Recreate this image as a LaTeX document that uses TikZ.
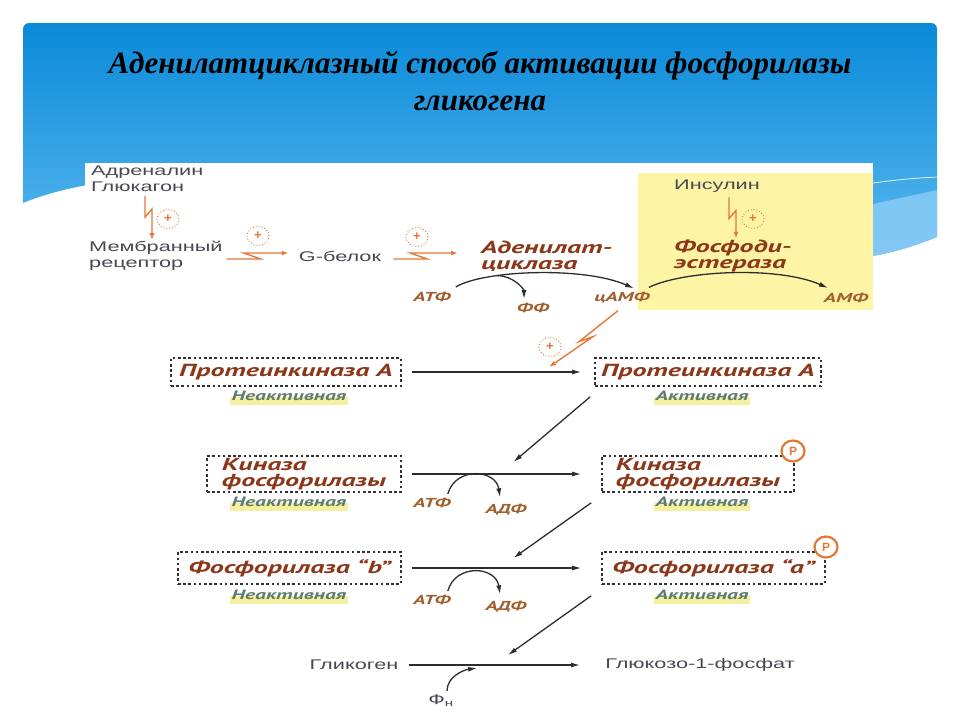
\documentclass[tikz,border=0pt]{standalone}
\usepackage{fontspec}
\setmainfont{Liberation Sans}
\newfontfamily\titlefont{Liberation Serif}
\newfontfamily\labfont[FakeStretch=1.55]{Liberation Sans}
\newfontfamily\enzfont[FakeStretch=1.6]{PT Sans}
\usetikzlibrary{arrows.meta,shapes.geometric,backgrounds,calc}
\definecolor{slidetop}{RGB}{10,138,217}
\definecolor{slidebot}{RGB}{90,184,239}
\definecolor{slidelight}{RGB}{140,205,246}
\definecolor{yellowbg}{RGB}{254,244,166}
\definecolor{hlyellow}{RGB}{244,240,160}
\definecolor{labgrey}{RGB}{72,72,82}
\definecolor{enzbrown}{RGB}{140,55,25}
\definecolor{metbrown}{RGB}{160,95,45}
\definecolor{actgreen}{RGB}{95,125,110}
\definecolor{zaporange}{RGB}{228,120,55}
\definecolor{arrgrey}{RGB}{45,45,45}
\definecolor{boxgrey}{RGB}{50,50,50}
\tikzset{
	lab/.style={font=\labfont\fontsize{14}{16}\selectfont, text=labgrey, inner sep=1pt, align=left},
	enz/.style={font=\enzfont\bfseries\itshape\fontsize{17.5}{16}\selectfont, text=enzbrown, inner sep=1pt, align=left},
	enzbox/.style={enz, draw=boxgrey, line width=1.6pt, dash pattern=on 2.6pt off 2.6pt},
	met/.style={font=\enzfont\bfseries\itshape\fontsize{13}{13}\selectfont, text=metbrown, inner sep=1pt},
	actlabel/.style={font=\enzfont\bfseries\itshape\fontsize{13.5}{13.5}\selectfont, text=actgreen, inner sep=1pt},
	plus/.style={ellipse, draw=zaporange, dotted, line width=0.9pt, minimum width=22pt, minimum height=19pt, inner sep=0pt, text=zaporange, font=\bfseries\fontsize{13}{13}\selectfont},
	phos/.style={ellipse, draw=zaporange, fill=white, line width=2.2pt, minimum width=23pt, minimum height=21pt, inner sep=0pt, text=zaporange, font=\bfseries\fontsize{12}{12}\selectfont},
	zap/.style={draw=zaporange, line width=1.4pt, -{Latex[length=7pt,width=5pt]}},
	conv/.style={draw=arrgrey, line width=1.3pt, -{Latex[length=9pt,width=5pt]}}
}

\begin{document}
\begin{tikzpicture}[x=1pt,y=-1pt]
			%%%%% START %%%%%
			\useasboundingbox (0,0) rectangle (960,720);
			
			\begin{scope}[on background layer]
				\fill[white] (0,0) rectangle (960,720);
				\shade[top color=slidetop, bottom color=slidebot] (23,203) [rounded corners=6pt] -- (23,23) -- (937,23) [sharp corners] -- (937,237) .. controls (915,246) and (895,252) .. (873,256) -- (500,240) -- (87,185) .. controls (60,190) and (40,196) .. (23,203) -- cycle;
				\fill[slidelight, opacity=0.8] (873,204) .. controls (895,199) and (915,195) .. (937,190) -- (937,237) .. controls (915,246) and (895,252) .. (873,256) -- cycle;
				\draw[white, line width=0.7pt] (873,183) .. controls (895,180) and (915,178) .. (937,177);
				\fill[white] (85,163) rectangle (873,716);
				\fill[yellowbg] (638,173) rectangle (873,310);
			\end{scope}
			
			\node[font=\titlefont\bfseries\itshape\fontsize{31}{37}\selectfont, align=center] (title) at (480,81) {Аденилатциклазный способ активации фосфорилазы\\гликогена};
			
			\node[lab, anchor=west] (horm) at (90,179) {Адреналин\\Глюкагон};
			\node[lab, anchor=west] (rec) at (88,256) {Мембранный\\рецептор};
			\node[lab] (gprot) at (340,256) {G-белок};
			\node[enz, anchor=west] (adc) at (480,256) {Аденилат-\\циклаза};
			\node[met] (atp1) at (432,297) {АТФ};
			\node[met] (pp) at (533,308) {ФФ};
			\node[met] (camp) at (622,298) {цАМФ};
			
			\node[lab] (ins) at (717,186) {Инсулин};
			\node[enz, anchor=west] (pde) at (673,256) {Фосфоди-\\эстераза};
			\node[met] (amp) at (846,298) {АМФ};
			
			\node[plus] (pl1) at (168,219) {+};
			\node[plus] (pl2) at (258,236) {+};
			\node[plus] (pl3) at (417,237) {+};
			\node[plus] (pl4) at (753,219) {+};
			\node[plus] (pl5) at (550,347) {+};
			
			\node[enzbox, minimum width=230pt, minimum height=28pt] (pka0) at (286,372) {Протеинкиназа А};
			\node[enzbox, minimum width=226pt, minimum height=28pt] (pka1) at (708,372) {Протеинкиназа А};
			\node[actlabel] (st1a) at (289,396) {Неактивная};
			\node[actlabel] (st1b) at (702,396) {Активная};
			
			\node[enzbox, minimum width=194pt, minimum height=36pt] (kin0) at (304,474) {Киназа\\фосфорилазы};
			\node[enzbox, minimum width=192pt, minimum height=36pt] (kin1) at (698,474) {Киназа\\фосфорилазы};
			\node[phos] (p1) at (793,451) {P};
			\node[actlabel] (st2a) at (289,502) {Неактивная};
			\node[actlabel] (st2b) at (702,502) {Активная};
			\node[met] (atp2) at (432,503) {АТФ};
			\node[met] (adp2) at (506,510) {АДФ};
			
			\node[enzbox, minimum width=223pt, minimum height=32pt] (ph0) at (289.5,568) {Фосфорилаза “b”};
			\node[enzbox, minimum width=223pt, minimum height=32pt] (ph1) at (713.5,568) {Фосфорилаза “a”};
			\node[phos] (p2) at (826,547) {P};
			\node[actlabel] (st3a) at (289,595) {Неактивная};
			\node[actlabel] (st3b) at (702,595) {Активная};
			\node[met] (atp3) at (432,600) {АТФ};
			\node[met] (adp3) at (506,607) {АДФ};
			
			\node[lab] (glyc) at (354,665) {Гликоген};
			\node[lab] (g1p) at (700,665) {Глюкозо-1-фосфат};
			\node[lab] (pi) at (441,701) {Ф\textsubscript{н}};
			
			\begin{scope}[on background layer]
				\fill[hlyellow] ([yshift=-1pt]st1a.west) rectangle ([yshift=-3pt]st1a.south east);
				\fill[hlyellow] ([yshift=-1pt]st1b.west) rectangle ([yshift=-3pt]st1b.south east);
				\fill[hlyellow] ([yshift=-1pt]st2a.west) rectangle ([yshift=-3pt]st2a.south east);
				\fill[hlyellow] ([yshift=-1pt]st2b.west) rectangle ([yshift=-3pt]st2b.south east);
				\fill[hlyellow] ([yshift=-1pt]st3a.west) rectangle ([yshift=-3pt]st3a.south east);
				\fill[hlyellow] ([yshift=-1pt]st3b.west) rectangle ([yshift=-3pt]st3b.south east);
			\end{scope}
			
			% lightning arrows
			\draw[zap] ($(horm.south west)+(55,3)$) -- ++(0,21) -- ++(7,-8) coordinate (zz1) -- (zz1 |- rec.north);
			\draw[zap] ($(ins.south)+(12,4)$) -- ++(0,21) -- ++(7,-8) coordinate (zz2) -- (zz2 |- pde.north);
			\draw[zap] ([xshift=3pt,yshift=-3pt]rec.east) -- ++(34,0) -- ++(-17,-6) -- ([xshift=-9pt,yshift=3pt]gprot.west);
			\draw[zap] ([xshift=11pt,yshift=-3pt]gprot.east) -- ++(34,0) -- ++(-17,-6) -- ([xshift=-22pt,yshift=3pt]adc.west);
			
			% cyclase and phosphodiesterase
			\draw[conv] ([xshift=4pt,yshift=4pt]atp1.north east) .. controls +(28,-17) and +(-50,-22) .. ([xshift=12pt,yshift=3pt]camp.north) node[coordinate, pos=0.3] (brpt) {};
			\draw[conv] (brpt) .. controls +(16,0) and +(0,-10) .. ([xshift=-9pt,yshift=3pt]pp.north);
			\draw[conv] ([xshift=-2pt,yshift=4pt]camp.north east) .. controls +(35,-17) and +(-50,-22) .. ([xshift=-18pt,yshift=4pt]amp.north);
			
			% cascade
			\draw[conv] ([xshift=10pt]pka0.east) -- node[coordinate, pos=0.81] (pkapt) {} ([xshift=-13pt]pka1.west);
			\draw[conv] ([xshift=10pt]kin0.east) -- node[coordinate, pos=0.6] (kinpt) {} ([xshift=-20pt]kin1.west);
			\draw[conv] ([xshift=10pt]ph0.east) -- node[coordinate, pos=0.6] (phpt) {} ([xshift=-20pt]ph1.west);
			\draw[conv] ([xshift=9pt]glyc.east) -- node[coordinate, pos=0.4] (pipt) {} node[coordinate, pos=0.58] (glpt) {} ([xshift=-24pt]g1p.west);
			
			\draw[zap] ([xshift=-4pt,yshift=-6pt]camp.south) -- ++(-39,31) -- ++(14,-5) -- ([yshift=5pt]pkapt);
			\draw[conv] ([xshift=-4pt,yshift=-10pt]pka1.south west) -- ([yshift=12pt]kinpt);
			\draw[conv] ([xshift=-10pt,yshift=-10pt]kin1.south west) -- ([yshift=10pt]phpt);
			\draw[conv] ([xshift=-10pt,yshift=-11pt]ph1.south west) -- ([yshift=10pt]glpt);
			
			\draw[conv] ([xshift=-4pt,yshift=3pt]atp2.north east) .. controls +(8,-28) and +(-4,-28) .. ([xshift=-6pt,yshift=6pt]adp2.north);
			\draw[conv] ([xshift=-4pt,yshift=3pt]atp3.north east) .. controls +(8,-28) and +(-4,-28) .. ([xshift=-6pt,yshift=6pt]adp3.north);
			\draw[conv] ([xshift=6pt,yshift=3pt]pi.north) .. controls +(0,-14) and +(-14,2) .. ([yshift=-3pt]pipt);
			
			%%%%% END %%%%%
\end{tikzpicture}
\end{document}
